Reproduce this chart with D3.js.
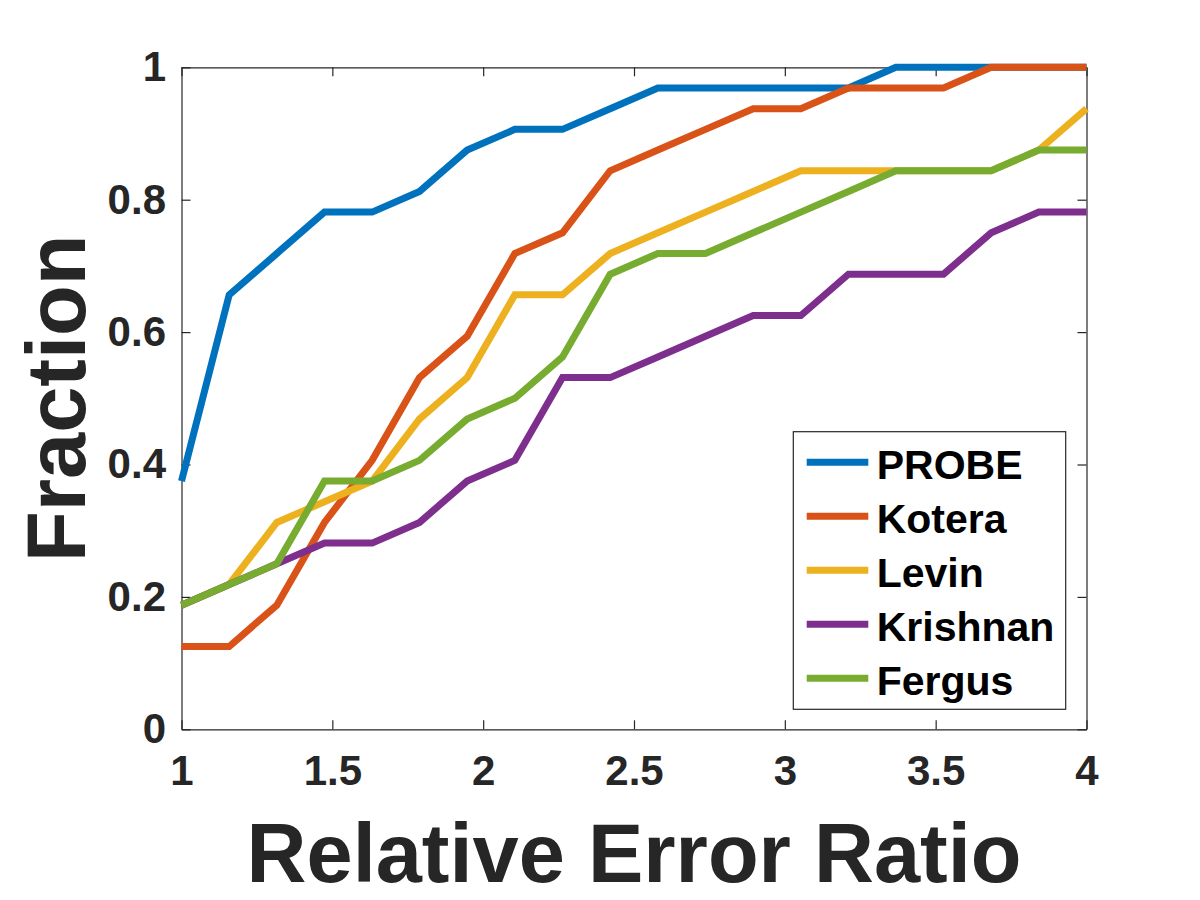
<!DOCTYPE html>
<html lang="en">
<head>
<meta charset="utf-8">
<title>Relative Error Ratio</title>
<script src="https://d3js.org/d3.v7.min.js"></script>
<style>
  body { margin: 0; background: #fff; }
  text { font-family: "Liberation Sans", Arial, sans-serif; font-weight: bold; }
</style>
</head>
<body>
<script>
// x positions (linspace 1..4, 20 points)
const xValues = [1, 1.158, 1.316, 1.474, 1.632, 1.789, 1.947, 2.105, 2.263, 2.421,
                 2.579, 2.737, 2.895, 3.053, 3.211, 3.368, 3.526, 3.684, 3.842, 4];

const seriesNames = ["PROBE", "Kotera", "Levin", "Krishnan", "Fergus"];

const probe    = [0.375, 0.65625, 0.71875, 0.78125, 0.78125, 0.8125, 0.875, 0.90625, 0.90625, 0.9375,
                  0.96875, 0.96875, 0.96875, 0.96875, 0.96875, 1, 1, 1, 1, 1];
const kotera   = [0.125, 0.125, 0.1875, 0.3125, 0.40625, 0.53125, 0.59375, 0.71875, 0.75, 0.84375,
                  0.875, 0.90625, 0.9375, 0.9375, 0.96875, 0.96875, 0.96875, 1, 1, 1];
const levin    = [0.1875, 0.21875, 0.3125, 0.34375, 0.375, 0.46875, 0.53125, 0.65625, 0.65625, 0.71875,
                  0.75, 0.78125, 0.8125, 0.84375, 0.84375, 0.84375, 0.84375, 0.84375, 0.875, 0.9375];
const krishnan = [0.1875, 0.21875, 0.25, 0.28125, 0.28125, 0.3125, 0.375, 0.40625, 0.53125, 0.53125,
                  0.5625, 0.59375, 0.625, 0.625, 0.6875, 0.6875, 0.6875, 0.75, 0.78125, 0.78125];
const fergus   = [0.1875, 0.21875, 0.25, 0.375, 0.375, 0.40625, 0.46875, 0.5, 0.5625, 0.6875,
                  0.71875, 0.71875, 0.75, 0.78125, 0.8125, 0.84375, 0.84375, 0.84375, 0.875, 0.875];

const xTicks = [1, 1.5, 2, 2.5, 3, 3.5, 4];
const yTicks = [0, 0.2, 0.4, 0.6, 0.8, 1];

const colors = ["#0072BD", "#D95319", "#EDB120", "#7E2F8E", "#77AC30"];
const allSeries = [probe, kotera, levin, krishnan, fergus];

const width = 1200, height = 900;
const plotLeft = 181.5, plotRight = 1086.5, plotTop = 67.3, plotBottom = 729.3;
const axisColor = "#262626";

const svg = d3.select("body").append("svg")
    .attr("width", width)
    .attr("height", height)
    .style("background", "#fff");

const x = d3.scaleLinear().domain([1, 4]).range([plotLeft, plotRight]);
const y = d3.scaleLinear().domain([0, 1]).range([plotBottom, plotTop]);

// axes, ticks pointing inward, box on all four sides
function styleAxis(g) {
    g.select(".domain").attr("stroke", axisColor).attr("stroke-width", 1.2);
    g.selectAll(".tick line").attr("stroke", axisColor).attr("stroke-width", 1.2);
    g.selectAll(".tick text")
        .attr("fill", axisColor)
        .style("font-size", "42px");
}

svg.append("g")
    .attr("transform", "translate(0," + plotBottom + ")")
    .call(d3.axisBottom(x).tickValues(xTicks).tickFormat(d3.format("")).tickSizeInner(-9).tickSizeOuter(0).tickPadding(26))
    .call(styleAxis);

svg.append("g")
    .attr("transform", "translate(0," + plotTop + ")")
    .call(d3.axisTop(x).tickValues(xTicks).tickFormat("").tickSizeInner(-9).tickSizeOuter(0))
    .call(styleAxis);

svg.append("g")
    .attr("transform", "translate(" + plotLeft + ",0)")
    .call(d3.axisLeft(y).tickValues(yTicks).tickFormat(d3.format("")).tickSizeInner(-9).tickSizeOuter(0).tickPadding(15.5))
    .call(styleAxis);

svg.append("g")
    .attr("transform", "translate(" + plotRight + ",0)")
    .call(d3.axisRight(y).tickValues(yTicks).tickFormat("").tickSizeInner(-9).tickSizeOuter(0))
    .call(styleAxis);

// the curves
const line = d3.line()
    .x((d, i) => x(xValues[i]))
    .y(d => y(d));

allSeries.forEach((s, k) => {
    svg.append("path")
        .datum(s)
        .attr("fill", "none")
        .attr("stroke", colors[k])
        .attr("stroke-width", 7)
        .attr("stroke-linejoin", "miter")
        .attr("d", line);
});

// axis titles
svg.append("text")
    .attr("x", (plotLeft + plotRight) / 2)
    .attr("y", 881.5)
    .attr("text-anchor", "middle")
    .attr("fill", axisColor)
    .style("font-size", "83px")
    .text("Relative Error Ratio");

svg.append("text")
    .attr("transform", "translate(85," + ((plotTop + plotBottom) / 2) + ") rotate(-90)")
    .attr("text-anchor", "middle")
    .attr("fill", axisColor)
    .style("font-size", "83px")
    .text("Fraction");

// legend
const legend = svg.append("g");
legend.append("rect")
    .attr("x", 793.3)
    .attr("y", 431.7)
    .attr("width", 272.4)
    .attr("height", 277.6)
    .attr("fill", "#fff")
    .attr("stroke", axisColor)
    .attr("stroke-width", 1.2);

seriesNames.forEach((name, i) => {
    const cy = 462.3 + i * 54;
    legend.append("line")
        .attr("x1", 806.7).attr("x2", 868.3)
        .attr("y1", cy).attr("y2", cy)
        .attr("stroke", colors[i])
        .attr("stroke-width", 7);
    legend.append("text")
        .attr("x", 876.7)
        .attr("y", cy + 16.5)
        .attr("fill", "#000")
        .style("font-size", "41px")
        .text(name);
});
</script>
</body>
</html>
